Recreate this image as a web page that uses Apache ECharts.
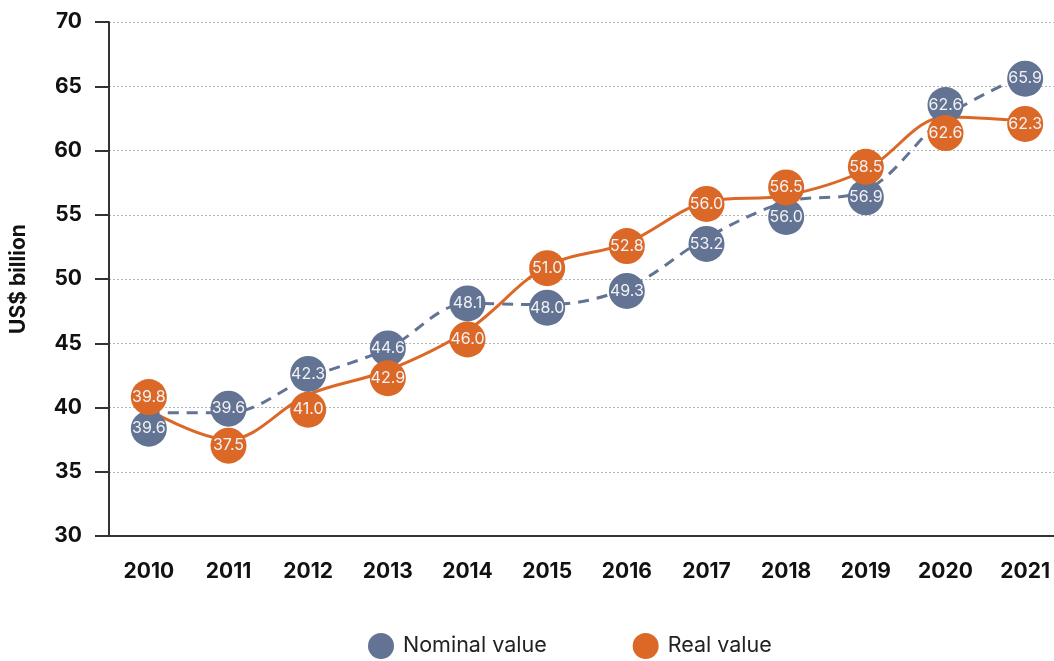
<!DOCTYPE html>
<html>
<head>
<meta charset="utf-8">
<script src="https://cdn.jsdelivr.net/npm/echarts@6/dist/echarts.min.js"></script>
<style>
  html, body { margin: 0; padding: 0; background: #fff; }
  #chart { width: 1054px; height: 661px; }
</style>
</head>
<body>
<div id="chart"></div>
<script>
var years = ['2010', '2011', '2012', '2013', '2014', '2015', '2016', '2017', '2018', '2019', '2020', '2021'];
var nominalValue = [39.6, 39.6, 42.3, 44.6, 48.1, 48.0, 49.3, 53.2, 56.0, 56.9, 62.6, 65.9];
var realValue = [39.8, 37.5, 41.0, 42.9, 46.0, 51.0, 52.8, 56.0, 56.5, 58.5, 62.6, 62.3];

// vertical nudge (px) of each bubble so they don't sit on top of each other
var nominalNudge = [16, -4, -4, 0, 0, 3, 3, 6, 15, 7, -12, 4];
var realNudge = [-13, 6, 15, 8, 9, 2, 3, 2, -8, -3, 16, 3];

var blue = '#627393';
var orange = '#dc6828';

function points(values, nudge) {
  var out = [];
  for (var i = 0; i < values.length; i++) {
    out.push({ value: values[i], symbolOffset: [0, nudge[i]] });
  }
  return out;
}

var labelStyle = {
  show: true,
  position: 'inside',
  color: '#f2f2f4',
  fontSize: 16,
  fontFamily: 'Inter',
  formatter: function (p) { return p.value.toFixed(1); }
};

var chart = echarts.init(document.getElementById('chart'));
chart.setOption({
  animation: false,
  textStyle: { fontFamily: 'Inter' },
  grid: { left: 109, top: 22, bottom: 125, width: 956, outerBoundsMode: 'none', containLabel: false },
  legend: {
    bottom: -3,
    left: 363,
    itemWidth: 26,
    itemHeight: 26,
    itemGap: 86,
    icon: 'circle',
    textStyle: { fontSize: 21.5, color: '#222', fontFamily: 'Inter', padding: [0, 0, 0, 4] },
    data: ['Nominal value', 'Real value']
  },
  xAxis: {
    type: 'category',
    data: years,
    axisLine: { lineStyle: { color: '#333', width: 2 } },
    axisTick: { alignWithLabel: true, length: 14, lineStyle: { color: '#333', width: 1.5 } },
    axisLabel: { color: '#111', fontSize: 21, fontWeight: 'bold', margin: 25 }
  },
  yAxis: {
    type: 'value',
    min: 30,
    max: 70,
    interval: 5,
    name: 'US$ billion',
    nameLocation: 'middle',
    nameGap: 80,
    nameTextStyle: { fontSize: 21, fontWeight: 'bold', color: '#111' },
    axisLine: { show: true, lineStyle: { color: '#333', width: 2 } },
    axisTick: { show: true, length: 14, lineStyle: { color: '#333', width: 2 } },
    axisLabel: { color: '#111', fontSize: 21, fontWeight: 'bold', margin: 27 },
    splitLine: { lineStyle: { color: '#b5b5b5', type: [2, 2], width: 1 } }
  },
  series: [
    {
      name: 'Nominal value',
      type: 'line',
      smooth: 0.35,
      data: points(nominalValue, nominalNudge),
      symbol: 'circle',
      symbolSize: 36,
      itemStyle: { color: blue },
      lineStyle: { color: blue, width: 3, type: [11, 8] },
      label: labelStyle
    },
    {
      name: 'Real value',
      type: 'line',
      smooth: 0.35,
      data: points(realValue, realNudge),
      symbol: 'circle',
      symbolSize: 36,
      itemStyle: { color: orange },
      lineStyle: { color: orange, width: 3 },
      label: labelStyle
    }
  ]
});
</script>
</body>
</html>
